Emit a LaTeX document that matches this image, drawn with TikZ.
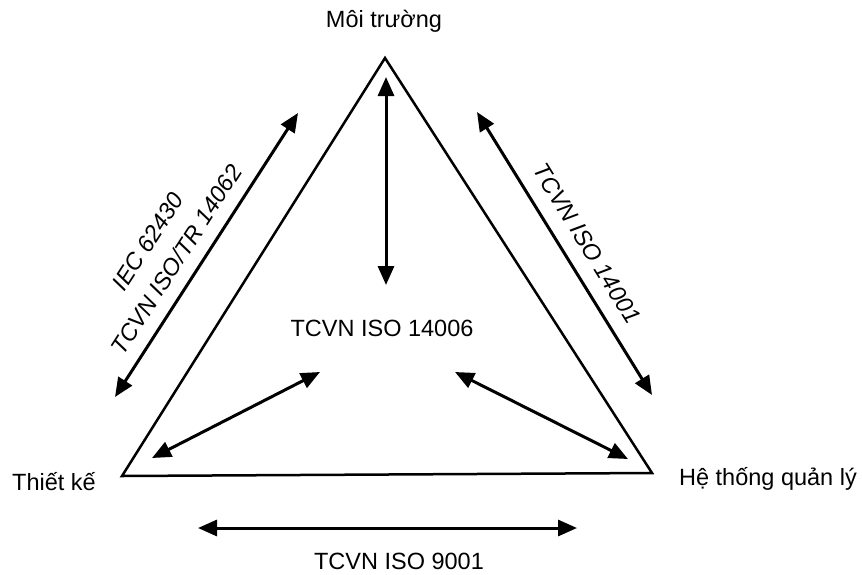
\documentclass[tikz,border=0pt]{standalone}
\usepackage{fontspec}
\setmainfont{Liberation Sans}
\usetikzlibrary{arrows.meta,positioning}
\newcommand\lbl{\fontsize{23.5}{29}\selectfont}
\begin{document}
\begin{tikzpicture}[x=1pt, y=-1pt, every node/.style={inner sep=0pt, font=\lbl},
  link/.style={{Triangle[length=19pt,width=16pt]}-{Triangle[length=19pt,width=16pt]}, line width=3pt}]
\useasboundingbox (0,0) rectangle (862,574);
\coordinate (top) at (385,58);
\coordinate (lft) at (122,476);
\coordinate (rgt) at (652,473);
\draw[line width=2.5pt, line join=miter] (top) -- (lft) -- (rgt) -- cycle;
\node[anchor=base] (env) at (384,27) {Môi trường};
\node[anchor=base] (des) at (54,490) {Thiết kế};
\node[anchor=base] (mgt) at (768,485) {Hệ thống quản lý};
\node[anchor=base] (mid) at (382,336) {TCVN ISO 14006};
\node[anchor=base] (qms) at (399,569) {TCVN ISO 9001};
% ends of the arrows
\coordinate (0a) at (386,77);  \coordinate (0b) at (386,285);
\coordinate (1a) at (115,397); \coordinate (1b) at (298,113);
\coordinate (2a) at (477,112); \coordinate (2b) at (652,395);
\coordinate (3a) at (152,458); \coordinate (3b) at (320,372);
\coordinate (4a) at (455,372); \coordinate (4b) at (628,459);
\coordinate (5a) at (198,528); \coordinate (5b) at (577,528);
\foreach \x in {0,...,5}
  \draw[link] (\x a) -- (\x b);
\path (1a) -- (1b) node[pos=0.44, sloped, above=14pt, align=center, font=\lbl\itshape] (dfe) {IEC 62430\\[5pt]TCVN ISO/TR 14062};
\path (2a) -- (2b) node[pos=0.51, sloped, above=16pt, font=\lbl\itshape] (ems) {TCVN ISO 14001};
\end{tikzpicture}
\end{document}
